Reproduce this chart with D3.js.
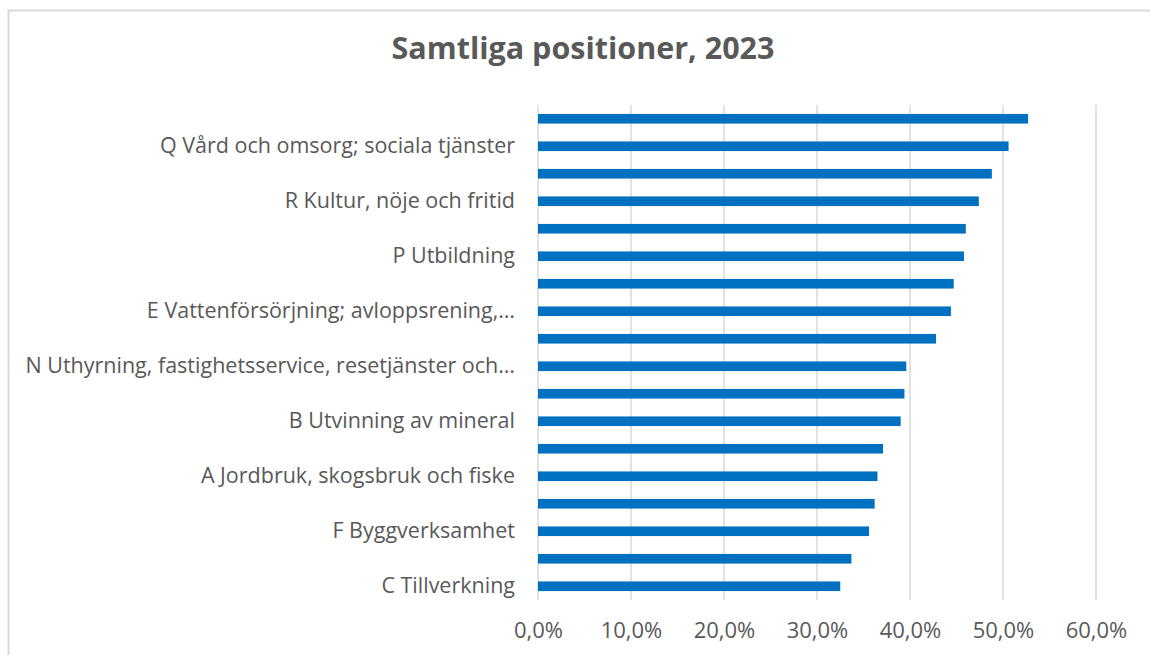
<!DOCTYPE html>
<html>
<head>
<meta charset="utf-8">
<script src="https://cdn.jsdelivr.net/npm/d3@7"></script>
<style>
    body { margin: 0; background: #fff; }
    svg { display: block; }
    .tick text { fill: #595959; }
</style>
</head>
<body>
<svg width="1150" height="655"></svg>
<script>
// every other category label is hidden by the chart (not enough room)
var categories = [
    "",
    "Q Vård och omsorg; sociala tjänster",
    "",
    "R Kultur, nöje och fritid",
    "",
    "P Utbildning",
    "",
    "E Vattenförsörjning; avloppsrening,…",
    "",
    "N Uthyrning, fastighetsservice, resetjänster och…",
    "",
    "B Utvinning av mineral",
    "",
    "A Jordbruk, skogsbruk och fiske",
    "",
    "F Byggverksamhet",
    "",
    "C Tillverkning"
];
var values = [52.7, 50.6, 48.8, 47.4, 46.0, 45.8, 44.7, 44.4, 42.8,
              39.6, 39.4, 39.0, 37.1, 36.5, 36.2, 35.6, 33.7, 32.5];
var xTicks = [0, 10, 20, 30, 40, 50, 60];
var title = "Samtliga positioner, 2023";

var svg = d3.select("svg");
var font = "'Open Sans', sans-serif";

// chart frame (right and bottom edges fall outside the picture)
svg.append("rect")
    .attr("x", 8.5).attr("y", 10.5)
    .attr("width", 1300).attr("height", 800)
    .attr("fill", "#fff")
    .attr("stroke", "#d9d9d9")
    .attr("stroke-width", 2);

var x = d3.scaleLinear().domain([0, 60]).range([538, 1096]);
var y = d3.scaleBand()
    .domain(d3.range(values.length))
    .range([105, 600])
    .paddingInner(0.65)
    .paddingOuter(0.325);

// gridlines
svg.append("g")
    .selectAll("line")
    .data(xTicks)
    .enter().append("line")
    .attr("x1", function (d) { return x(d); })
    .attr("x2", function (d) { return x(d); })
    .attr("y1", 105)
    .attr("y2", 600)
    .attr("stroke", "#d9d9d9")
    .attr("stroke-width", 1.5);

svg.append("g")
    .selectAll("rect")
    .data(values)
    .enter().append("rect")
    .attr("x", x(0))
    .attr("y", function (d, i) { return y(i); })
    .attr("width", function (d) { return x(d) - x(0); })
    .attr("height", y.bandwidth())
    .attr("fill", "#0070c0");

var fmt = function (d) { return d.toFixed(1).replace(".", ",") + "%"; };

var xAxis = svg.append("g")
    .attr("transform", "translate(0,612)")
    .call(d3.axisBottom(x).tickValues(xTicks).tickFormat(fmt).tickSize(0).tickPadding(10));
xAxis.select(".domain").remove();
xAxis.selectAll("text")
    .attr("font-family", font)
    .attr("font-size", 22);

var yAxis = svg.append("g")
    .attr("transform", "translate(538,0)")
    .call(d3.axisLeft(y).tickFormat(function (i) { return categories[i]; }).tickSize(0).tickPadding(23));
yAxis.select(".domain").remove();
yAxis.selectAll("text")
    .attr("font-family", font)
    .attr("font-size", 21.5);

svg.append("text")
    .attr("x", 583)
    .attr("y", 59)
    .attr("text-anchor", "middle")
    .attr("font-family", font)
    .attr("font-weight", "bold")
    .attr("font-size", 30.5)
    .attr("fill", "#595959")
    .text(title);
</script>
</body>
</html>
